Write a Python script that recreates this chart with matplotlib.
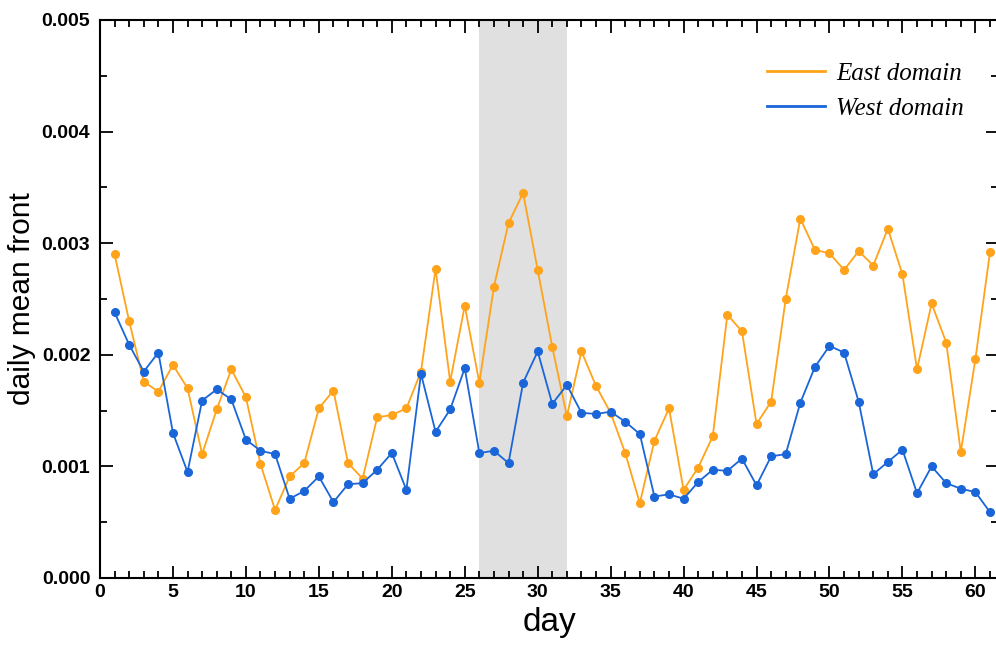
import numpy as np
import matplotlib
matplotlib.use("Agg")
import matplotlib.pyplot as plt
from matplotlib.ticker import MultipleLocator, FormatStrFormatter

# daily mean front per domain, days 1..61
days = list(range(1, 62))
east = [2.90, 2.30, 1.76, 1.67, 1.91, 1.70, 1.11, 1.51, 1.87, 1.62,
        1.02, 0.61, 0.91, 1.03, 1.52, 1.68, 1.03, 0.89, 1.44, 1.46,
        1.52, 1.85, 2.77, 1.76, 2.44, 1.75, 2.61, 3.18, 3.45, 2.76,
        2.07, 1.45, 2.03, 1.72, 1.48, 1.12, 0.67, 1.23, 1.52, 0.79,
        0.99, 1.27, 2.36, 2.21, 1.38, 1.58, 2.50, 3.22, 2.94, 2.91,
        2.76, 2.93, 2.80, 3.13, 2.72, 1.87, 2.46, 2.11, 1.13, 1.96,
        2.92]
west = [2.38, 2.09, 1.85, 2.02, 1.30, 0.95, 1.59, 1.69, 1.60, 1.24,
        1.14, 1.11, 0.71, 0.78, 0.91, 0.68, 0.84, 0.85, 0.97, 1.12,
        0.79, 1.83, 1.31, 1.51, 1.88, 1.12, 1.14, 1.03, 1.75, 2.03,
        1.56, 1.73, 1.48, 1.47, 1.49, 1.40, 1.29, 0.73, 0.75, 0.71,
        0.86, 0.97, 0.96, 1.07, 0.83, 1.09, 1.11, 1.57, 1.89, 2.08,
        2.02, 1.58, 0.93, 1.04, 1.15, 0.76, 1.00, 0.85, 0.80, 0.77,
        0.59]
east = np.array(east) * 1e-3
west = np.array(west) * 1e-3
shade_start, shade_end = 26, 32

orange = "#FFA31A"
blue = "#1A66D9"

fig = plt.figure(figsize=(9.96, 6.45), dpi=100)
ax = fig.add_axes([100 / 996, 1 - 578 / 645, 898 / 996, 558 / 645])

ax.axvspan(shade_start, shade_end, color="#E0E0E0", lw=0, zorder=0)
ax.plot(days, east, color=orange, lw=1.3, marker="o", ms=5.5, label="East domain")
ax.plot(days, west, color=blue, lw=1.3, marker="o", ms=5.5, label="West domain")

ax.set_xlim(0, 61.55)
ax.set_ylim(0, 0.005)
ax.xaxis.set_major_locator(MultipleLocator(5))
ax.xaxis.set_minor_locator(MultipleLocator(1))
ax.yaxis.set_major_locator(MultipleLocator(0.001))
ax.yaxis.set_minor_locator(MultipleLocator(0.0005))
ax.yaxis.set_major_formatter(FormatStrFormatter("%.3f"))

ax.tick_params(which="both", direction="in", top=True, right=True, width=1.3)
ax.tick_params(which="major", length=9, labelsize=14)
ax.tick_params(which="minor", length=5)
ax.tick_params(axis="y", which="major", pad=7)
ax.tick_params(axis="x", which="major", pad=4)
for lab in ax.get_xticklabels() + ax.get_yticklabels():
    lab.set_fontfamily("Liberation Sans")
    lab.set_fontweight("bold")
for s in ax.spines.values():
    s.set_linewidth(1.5)
ax.spines["right"].set_visible(False)

ax.set_xlabel("day", fontsize=24, family="Liberation Sans", labelpad=5)
ax.set_ylabel("daily mean front", fontsize=21.5, family="Liberation Sans", labelpad=4)

leg = ax.legend(loc="upper right", frameon=False, handlelength=2.3,
                handletextpad=0.45, labelspacing=0.5,
                bbox_to_anchor=(0.987, 0.964),
                prop={"family": "Liberation Serif", "style": "italic", "size": 18})
for h in leg.get_lines():
    h.set_marker("")
    h.set_linewidth(2)

fig.savefig("out.png", dpi=100)
